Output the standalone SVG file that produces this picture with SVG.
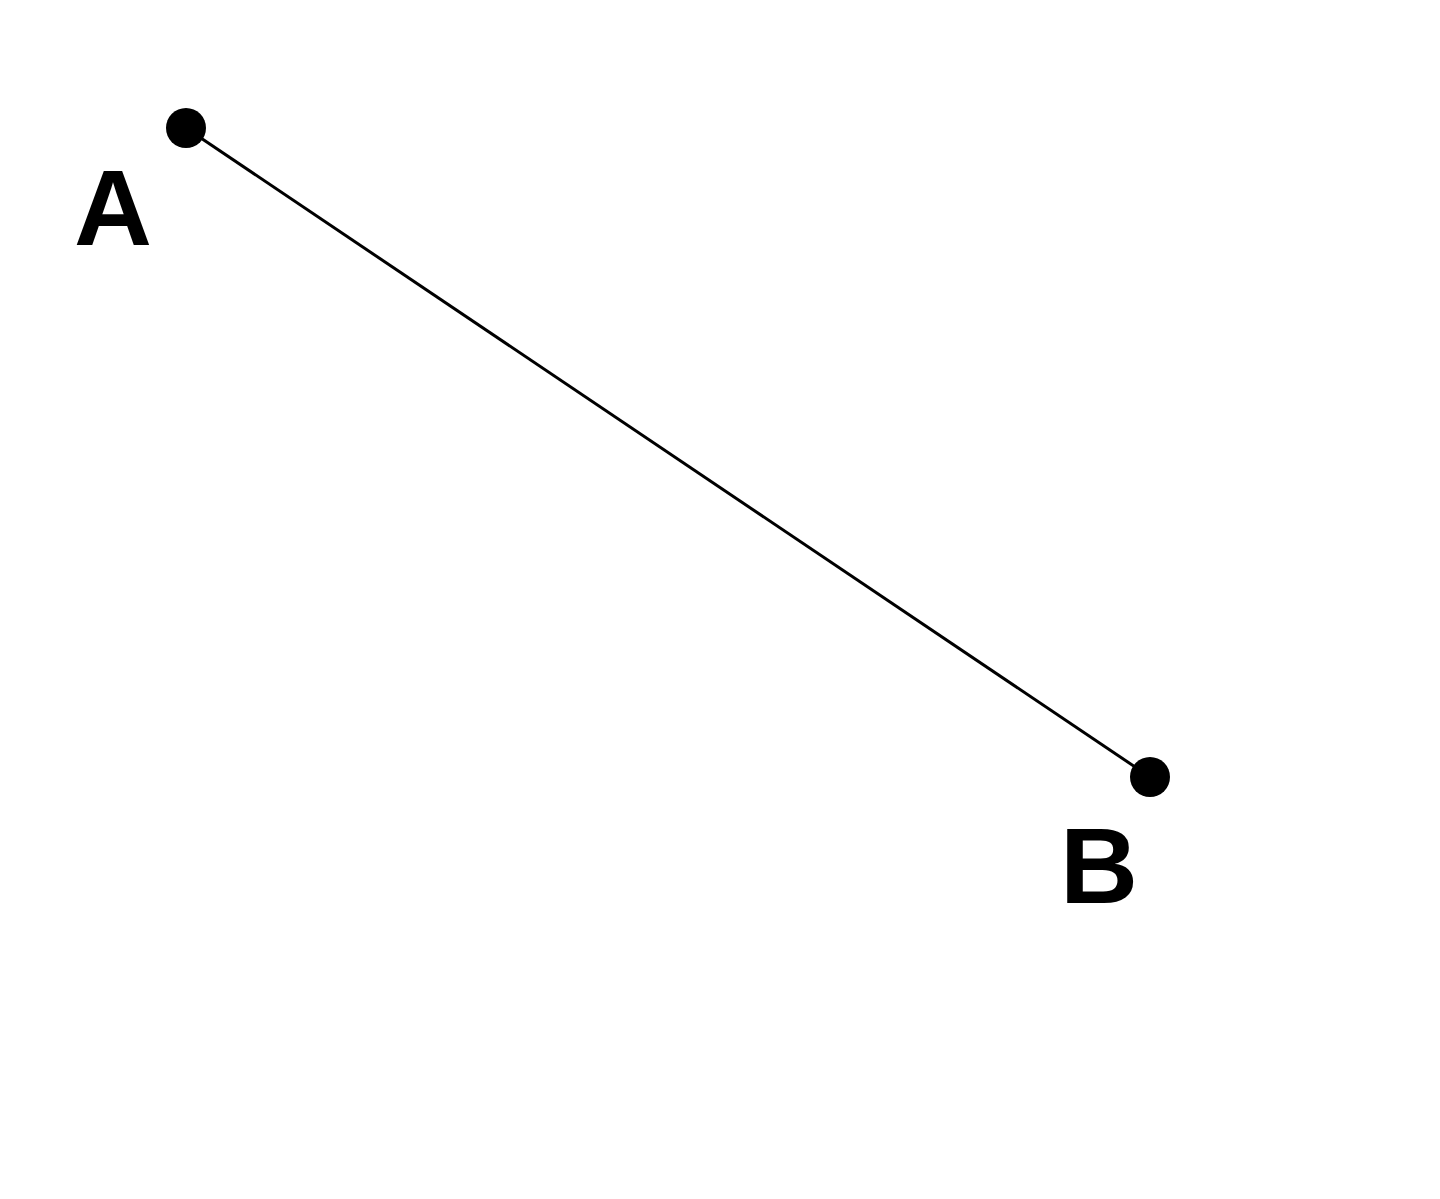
<svg xmlns="http://www.w3.org/2000/svg" width="1440" height="1199" viewBox="0 0 1440 1199">
<style>
.pt{fill:#000}
.lbl{font-family:"Liberation Sans",Arial,sans-serif;font-weight:bold;font-size:108px;fill:#000}
.edge{stroke:#000;stroke-width:3;fill:none}
</style>
<rect width="1440" height="1199" fill="#fff"/>
<g id="connectors">
<line class="edge" x1="186" y1="128" x2="1150" y2="777"/>
</g>
<g id="nodeA">
<circle class="pt" cx="186" cy="128" r="20"/>
<text class="lbl" x="74" y="245">A</text>
</g>
<g id="nodeB">
<circle class="pt" cx="1150" cy="777" r="20"/>
<text class="lbl" x="1060" y="903">B</text>
</g>
</svg>
